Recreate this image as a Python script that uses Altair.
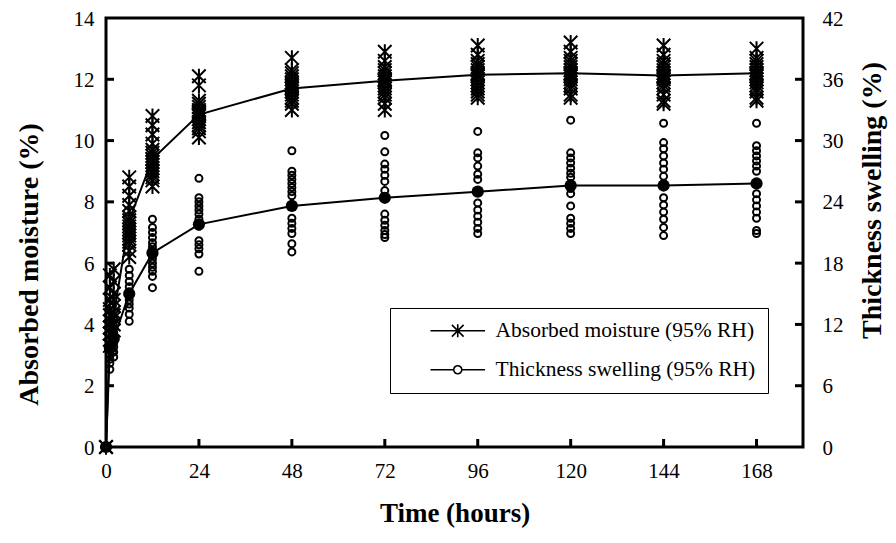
import altair as alt
import pandas as pd

# ---------------- data ----------------
hours = [0, 1, 2, 6, 12, 24, 48, 72, 96, 120, 144, 168]

am_mean = [0.0, 3.7, 4.3, 7.4, 9.4, 10.85, 11.7, 11.95, 12.15, 12.2, 12.12, 12.2]
ts_mean = [0.0, 9.7, 10.6, 15.0, 19.0, 21.8, 23.6, 24.4, 25.0, 25.6, 25.6, 25.8]

am_samples = [
    [0.0],
    [5.6, 5.2, 4.8, 4.5, 4.3, 4.1, 3.9, 3.7, 3.5, 3.3],
    [5.8, 5.4, 5.0, 4.8, 4.6, 4.4, 4.2, 4.0, 3.8],
    [8.8, 8.5, 8.2, 7.9, 7.7, 7.5, 7.3, 7.2, 7.1, 7.0, 6.9, 6.8, 6.7, 6.6, 6.4, 6.2],
    [10.8, 10.5, 10.2, 9.9, 9.7, 9.6, 9.5, 9.4, 9.3, 9.2, 9.1, 9.0, 8.9, 8.8, 8.7, 8.5],
    [12.1, 11.8, 11.3, 11.2, 11.1, 11.0, 10.95, 10.9, 10.85, 10.8, 10.7, 10.6, 10.5, 10.4, 10.3, 10.1],
    [12.7, 12.3, 12.2, 12.1, 12.0, 11.9, 11.85, 11.8, 11.75, 11.7, 11.6, 11.5, 11.4, 11.3, 11.2, 11.0],
    [12.9, 12.6, 12.4, 12.3, 12.2, 12.1, 12.0, 11.95, 11.9, 11.8, 11.7, 11.6, 11.5, 11.4, 11.2, 11.0],
    [13.1, 12.8, 12.6, 12.5, 12.4, 12.3, 12.2, 12.15, 12.1, 12.0, 11.9, 11.8, 11.7, 11.6, 11.5, 11.4],
    [13.2, 12.9, 12.7, 12.6, 12.5, 12.4, 12.3, 12.2, 12.15, 12.1, 12.0, 11.9, 11.8, 11.7, 11.5, 11.4],
    [13.1, 12.8, 12.6, 12.5, 12.4, 12.3, 12.2, 12.1, 12.05, 12.0, 11.9, 11.8, 11.7, 11.5, 11.3, 11.2],
    [13.0, 12.7, 12.6, 12.5, 12.4, 12.3, 12.2, 12.15, 12.1, 12.0, 11.9, 11.8, 11.7, 11.6, 11.4, 11.3],
]

ts_samples = [
    [0.0],
    [11.5, 10.5, 10.0, 9.5, 9.0, 8.6, 8.2, 7.6],
    [12.5, 11.8, 11.2, 10.7, 10.2, 9.8, 9.3, 8.8],
    [17.4, 16.8, 16.2, 15.7, 15.2, 14.8, 14.4, 14.0, 13.6, 13.0, 12.3],
    [22.3, 21.5, 21.0, 20.5, 20.0, 19.6, 19.2, 18.8, 18.4, 18.0, 17.6, 17.2, 16.7, 15.6],
    [26.3, 24.4, 24.0, 23.6, 23.2, 22.8, 22.3, 21.8, 21.6, 20.2, 19.8, 19.4, 18.9, 17.2],
    [29.0, 27.0, 26.6, 26.2, 25.8, 25.4, 25.0, 24.6, 23.6, 22.4, 21.9, 21.4, 20.9, 19.9, 19.1],
    [30.5, 28.9, 27.7, 27.2, 26.6, 26.0, 25.1, 24.4, 22.8, 22.2, 21.7, 21.2, 20.8, 20.5],
    [30.9, 28.8, 28.3, 27.5, 26.7, 26.2, 25.1, 23.9, 23.2, 22.6, 22.0, 21.4, 20.9],
    [32.0, 28.8, 28.3, 27.8, 27.3, 26.8, 26.4, 25.8, 25.3, 24.8, 23.6, 22.4, 21.9, 21.4, 20.9],
    [31.7, 29.8, 29.2, 28.5, 27.8, 27.2, 26.5, 25.8, 24.4, 23.7, 23.0, 22.3, 21.5, 20.7],
    [31.7, 29.5, 29.0, 28.5, 28.0, 27.5, 27.0, 25.8, 24.8, 24.2, 23.6, 23.0, 22.4, 21.2, 20.9],
]

x_ticks = [0, 24, 48, 72, 96, 120, 144, 168]
left_ticks = [0, 2, 4, 6, 8, 10, 12, 14]
right_ticks = [0, 6, 12, 18, 24, 30, 36, 42]
series_labels = ["Absorbed moisture (95% RH)", "Thickness swelling (95% RH)"]

# ---------------- tables ----------------
am_df = pd.DataFrame([(h, v) for h, vs in zip(hours, am_samples) for v in vs], columns=["h", "v"])
ts_df = pd.DataFrame([(h, v) for h, vs in zip(hours, ts_samples) for v in vs], columns=["h", "v"])
am_mean_df = pd.DataFrame({"h": hours, "v": am_mean})
ts_mean_df = pd.DataFrame({"h": hours, "v": ts_mean})
xt_df = pd.DataFrame({"v": x_ticks[1:]})
lt_df = pd.DataFrame({"v": left_ticks[1:-1]})
rt_df = pd.DataFrame({"v": right_ticks[1:-1]})
leg_df = pd.DataFrame({"series": series_labels})

W, H = 697, 429
FONT = "Liberation Serif"

ASTER = "M-0.9,-0.9L0.9,0.9M-0.9,0.9L0.9,-0.9M0,-1L0,1"
LEG_AM = "M-4.2,0L4.2,0M-0.9,-0.9L0.9,0.9M-0.9,0.9L0.9,-0.9M0,-1L0,1"
LEG_TS = "M-4.2,0L-0.62,0M0.62,0L4.2,0M-0.62,0A0.62,0.62,0,1,1,0.62,0A0.62,0.62,0,1,1,-0.62,0"

x_scale = alt.Scale(domain=[0, 180], nice=False, zero=False)
yl_scale = alt.Scale(domain=[0, 14], nice=False)
yr_scale = alt.Scale(domain=[0, 42], nice=False)

x_axis = alt.Axis(values=x_ticks, ticks=False, domain=False, grid=False, labelFlush=False,
                  labelFontSize=21, labelPadding=13, title="Time (hours)", titleFontSize=27,
                  titleFontWeight="bold", titleX=W / 2, titleY=66, titleAlign="center",
                  titleBaseline="middle")
yl_axis = alt.Axis(values=left_ticks, ticks=False, domain=False, grid=False, orient="left",
                   labelFontSize=21, labelPadding=12, labelOffset=1,
                   title="Absorbed moisture (%)", titleFontSize=28, titleFontWeight="bold",
                   titleAngle=270, titleX=-77, titleY=246, titleAlign="center",
                   titleBaseline="middle")
yr_axis = alt.Axis(values=right_ticks, ticks=False, domain=False, grid=False, orient="right",
                   labelFontSize=21, labelPadding=19, labelOffset=1,
                   title="Thickness swelling (%)", titleFontSize=28, titleFontWeight="bold",
                   titleAngle=270, titleX=69, titleY=182, titleAlign="center",
                   titleBaseline="middle")

X = alt.X("h:Q", scale=x_scale, axis=x_axis)
YL = alt.Y("v:Q", scale=yl_scale, axis=yl_axis)
YR = alt.Y("v:Q", scale=yr_scale, axis=yr_axis)

am_pts = alt.Chart(am_df).mark_point(shape=ASTER, size=225, filled=False, color="black",
                                     strokeWidth=2, opacity=1, clip=False).encode(x=X, y=YL)
am_line = alt.Chart(am_mean_df).mark_line(color="black", strokeWidth=2).encode(x=X, y=YL)
am_mpts = alt.Chart(am_mean_df).mark_point(shape=ASTER, size=225, filled=False, color="black",
                                           strokeWidth=2, opacity=1).encode(x=X, y=YL)
lt_rules = alt.Chart(lt_df).mark_rule(color="black", strokeWidth=3).encode(
    y=YL, x=alt.value(0), x2=alt.value(8))
xt_rules = alt.Chart(xt_df).mark_rule(color="black", strokeWidth=3).encode(
    x=alt.X("v:Q", scale=x_scale, axis=x_axis), y=alt.value(H), y2=alt.value(H - 8))

legend_layer = alt.Chart(leg_df).mark_point(opacity=0, filled=False, color="black").encode(
    x=alt.value(0), y=alt.value(0),
    shape=alt.Shape("series:N",
                    scale=alt.Scale(domain=series_labels, range=[LEG_AM, LEG_TS]),
                    legend=alt.Legend(title=None, orient="none", legendX=284, legendY=290,
                                      strokeColor="black", fillColor="white", padding=12,
                                      symbolOffset=45, labelOffset=27, symbolSize=169,
                                      symbolStrokeColor="black", symbolStrokeWidth=1.6,
                                      symbolFillColor="transparent", symbolOpacity=1,
                                      labelFont=FONT, labelFontSize=21.5, labelColor="black",
                                      rowPadding=16, labelLimit=0,
                                      labelExpr="datum.label + '\u2003\u2003'")))

ts_pts = alt.Chart(ts_df).mark_point(shape="circle", size=49, filled=False, color="black",
                                     strokeWidth=2, opacity=1, clip=False).encode(x=X, y=YR)
ts_line = alt.Chart(ts_mean_df).mark_line(color="black", strokeWidth=2).encode(x=X, y=YR)
ts_mpts = alt.Chart(ts_mean_df).mark_point(shape="circle", size=150, filled=True, color="black",
                                           opacity=1).encode(x=X, y=YR)
rt_rules = alt.Chart(rt_df).mark_rule(color="black", strokeWidth=3).encode(
    y=YR, x=alt.value(W - 8), x2=alt.value(W))

left_group = alt.layer(am_line, am_pts, am_mpts, lt_rules, xt_rules, legend_layer)
right_group = alt.layer(ts_line, ts_pts, ts_mpts, rt_rules)

chart = alt.layer(left_group, right_group).resolve_scale(y="independent").properties(
    width=W, height=H, autosize="none",
    padding={"left": 98, "top": 10, "right": 85, "bottom": 88},
).configure_view(stroke="black", strokeWidth=3).configure_axis(
    labelFont=FONT, titleFont=FONT, labelColor="black", titleColor="black"
)

chart.save("out.html", embed_options={"renderer": "svg", "actions": False})
